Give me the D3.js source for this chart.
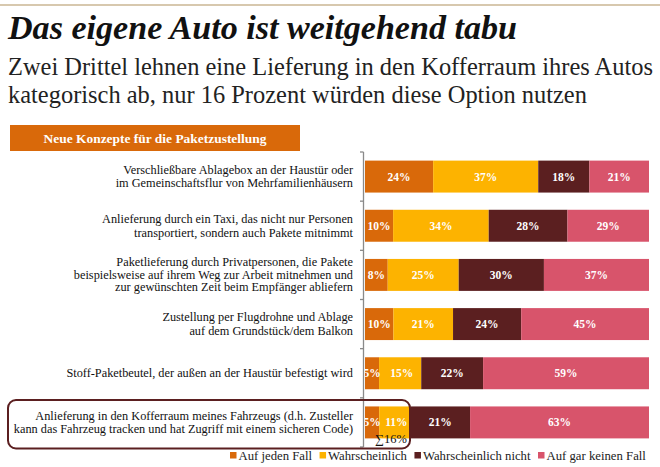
<!DOCTYPE html>
<html><head><meta charset="utf-8">
<script src="https://cdn.jsdelivr.net/npm/d3@7"></script>
<style>html,body{margin:0;padding:0;background:#fff;}svg{display:block;}</style>
</head><body>
<script>
const categories = [
  ["Verschließbare Ablagebox an der Haustür oder", "im Gemeinschaftsflur von Mehrfamilienhäusern"],
  ["Anlieferung durch ein Taxi, das nicht nur Personen", "transportiert, sondern auch Pakete mitnimmt"],
  ["Paketlieferung durch Privatpersonen, die Pakete", "beispielsweise auf ihrem Weg zur Arbeit mitnehmen und", "zur gewünschten Zeit beim Empfänger abliefern"],
  ["Zustellung per Flugdrohne und Ablage", "auf dem Grundstück/dem Balkon"],
  ["Stoff-Paketbeutel, der außen an der Haustür befestigt wird"],
  ["Anlieferung in den Kofferraum meines Fahrzeugs (d.h. Zusteller", "kann das Fahrzeug tracken und hat Zugriff mit einem sicheren Code)"]
];
const seriesNames = ["Auf jeden Fall", "Wahrscheinlich", "Wahrscheinlich nicht", "Auf gar keinen Fall"];
const aufJedenFall = [24, 10, 8, 10, 5, 5];
const wahrscheinlich = [37, 34, 25, 21, 15, 11];
const wahrscheinlichNicht = [18, 28, 30, 24, 22, 21];
const aufGarKeinenFall = [21, 29, 37, 45, 59, 63];
const colors = ["#d9690a", "#fdb300", "#5b1f20", "#d8546b"];
const title = "Das eigene Auto ist weitgehend tabu";
const subtitle = ["Zwei Drittel lehnen eine Lieferung in den Kofferraum ihres Autos", "kategorisch ab, nur 16 Prozent würden diese Option nutzen"];
const header = "Neue Konzepte für die Paketzustellung";
const sumLabel = "∑16%";

const W = 660, H = 467;
const serif = "'Liberation Serif', 'Times New Roman', 'DejaVu Serif', serif";
const svg = d3.select("body").append("svg").attr("width", W).attr("height", H);

svg.append("line").attr("x1", 0).attr("x2", W).attr("y1", 5).attr("y2", 5)
  .attr("stroke", "#b0915e").attr("stroke-width", 1.2);

function fit(sel, target) {
  const fs = parseFloat(sel.attr("font-size"));
  const w = sel.node().getComputedTextLength();
  const nf = fs * target / w;
  sel.attr("font-size", nf.toFixed(2));
  return nf;
}
const t = svg.append("text").attr("x", 8).attr("y", 39).text(title)
  .style("font-family", serif).attr("font-weight", "bold").attr("font-style", "italic")
  .attr("font-size", 24).attr("fill", "#111");
fit(t, 509);
const subs = subtitle.map((s, i) => svg.append("text").attr("x", 8).attr("y", 75 + i * 27.5).text(s)
    .style("font-family", serif).attr("font-size", 22).attr("fill", "#222"));
const sfs = fit(subs[0], 645);
subs[1].attr("font-size", sfs.toFixed(2));

svg.append("rect").attr("x", 10).attr("y", 125).attr("width", 290).attr("height", 26).attr("fill", "#d9690a");
const ht = svg.append("text").attr("x", 155).attr("y", 142.5).attr("text-anchor", "middle").text(header)
  .style("font-family", serif).attr("font-weight", "bold").attr("font-size", 12).attr("fill", "#fff");
fit(ht, 223);

const idx = d3.range(categories.length);
const y = d3.scaleBand().domain(idx).range([152, 447]).paddingInner(0.35).paddingOuter(0.175);
const x = d3.scaleLinear().domain([0, 1]).range([365, 649]);
const rows = idx.map(i => ({i, v0: aufJedenFall[i], v1: wahrscheinlich[i], v2: wahrscheinlichNicht[i], v3: aufGarKeinenFall[i]}));
const stacked = d3.stack().keys(["v0", "v1", "v2", "v3"]).offset(d3.stackOffsetExpand)(rows);

const g = svg.append("g");
stacked.forEach((layer, k) => {
  g.selectAll(null).data(layer).enter().append("rect")
    .attr("x", d => x(d[0])).attr("width", d => x(d[1]) - x(d[0]))
    .attr("y", d => y(d.data.i)).attr("height", y.bandwidth())
    .attr("fill", colors[k]);
});
stacked.forEach((layer, k) => {
  g.selectAll(null).data(layer).enter().append("text")
    .attr("x", d => (x(d[0]) + x(d[1])) / 2 + (k === 1 && d.data.v0 < 6 ? 1.5 : 0))
    .attr("y", d => y(d.data.i) + y.bandwidth() / 2 + 4)
    .attr("text-anchor", "middle").style("font-family", serif).attr("font-weight", "bold")
    .attr("font-size", 11.5).attr("fill", "#fff")
    .text(d => d.data["v" + k] + "%");
});

const bounds = idx.map(i => y(i) - y.step() * y.paddingInner() / 2).concat([447]);
bounds[0] = 152;
const ax = svg.append("g");
ax.append("line").attr("x1", 363.5).attr("x2", 363.5).attr("y1", 152).attr("y2", 447)
  .attr("stroke", "#8a8a8a").attr("stroke-width", 1.3);
ax.selectAll(null).data(bounds).enter().append("line")
  .attr("x1", 360).attr("x2", 363.5).attr("y1", d => d).attr("y2", d => d)
  .attr("stroke", "#8a8a8a").attr("stroke-width", 1.3);

const lab = svg.append("g").style("font-family", serif).attr("font-size", 12.3).attr("fill", "#111");
categories.forEach((lines, i) => {
  const cy = y(i) + y.bandwidth() / 2;
  const lh = lines.length > 2 ? 12.5 : 13.5;
  lines.forEach((ln, j) => {
    lab.append("text").attr("x", 353).attr("text-anchor", "end")
      .attr("y", cy + (j - (lines.length - 1) / 2) * lh + 4).text(ln);
  });
});

svg.append("rect").attr("x", 8).attr("y", 400).attr("width", 402).attr("height", 48.5)
  .attr("rx", 8).attr("fill", "none").attr("stroke", "#5b1f20").attr("stroke-width", 2);
svg.append("text").attr("x", 391).attr("y", 443).attr("text-anchor", "middle")
  .style("font-family", serif).attr("font-size", 12.5).attr("fill", "#111").text(sumLabel);

const leg = svg.append("g").style("font-family", serif).attr("fill", "#222");
const legTexts = seriesNames.map(n => leg.append("text").attr("y", 460).attr("font-size", 13).text(n));
const sq = 6.5, gapIn = 2, gapOut = 7.5;
const fixedW = seriesNames.length * (sq + gapIn) + (seriesNames.length - 1) * gapOut;
const textW = d3.sum(legTexts, s => s.node().getComputedTextLength());
const lfs = 13 * (646 - 230 - fixedW) / textW;
let cx = 230;
legTexts.forEach((s, k) => {
  s.attr("font-size", lfs.toFixed(2));
  leg.append("rect").attr("x", cx).attr("y", 452).attr("width", sq).attr("height", sq).attr("fill", colors[k]);
  s.attr("x", cx + sq + gapIn);
  cx += sq + gapIn + s.node().getComputedTextLength() + gapOut;
});
</script>
</body></html>
